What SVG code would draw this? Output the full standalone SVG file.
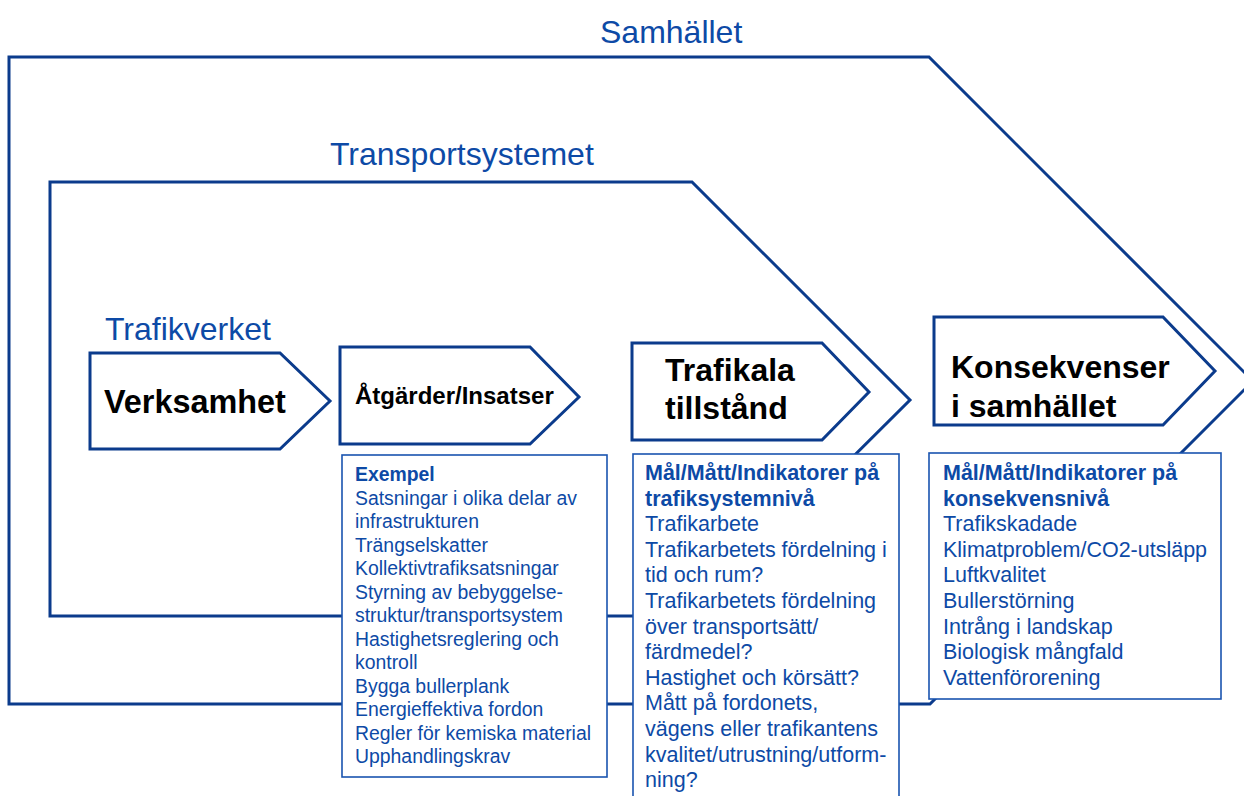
<svg xmlns="http://www.w3.org/2000/svg" width="1244" height="796" viewBox="0 0 1244 796">
  <style>
    .frame { fill: none; stroke: #0b3b8c; stroke-width: 3; stroke-linejoin: miter; }
    .step { fill: #ffffff; stroke: #0b3b8c; stroke-width: 3; stroke-linejoin: miter; }
    .box { fill: #ffffff; stroke: #1a54b0; stroke-width: 1.6; }
    .scope { font-family: "Liberation Sans", Arial, sans-serif; font-size: 32px; fill: #0d4aa6; }
    .title { font-family: "Liberation Sans", Arial, sans-serif; font-weight: bold; fill: #000000; }
    .list { font-family: "Liberation Sans", Arial, sans-serif; fill: #0d4aa6; }
    .list .h { font-weight: bold; }
  </style>

  <!-- nested scope frames -->
  <g id="frames">
    <path id="frame-samhallet" class="frame" d="M9,57 L929,57 L1253,381 L930,704 L9,704 Z"/>
    <path id="frame-transportsystemet" class="frame" d="M50,182 L692,182 L910,400 L693,616 L50,616 Z"/>
  </g>

  <!-- scope labels -->
  <g id="labels">
    <text class="scope" x="600" y="43">Samhället</text>
    <text class="scope" x="330" y="165">Transportsystemet</text>
    <text class="scope" x="105" y="340">Trafikverket</text>
  </g>

  <!-- process steps -->
  <g id="step-verksamhet">
    <path class="step" d="M90,353 L280,353 L330,401 L280,449 L90,449 Z"/>
    <text class="title" x="104" y="413" font-size="32.4">Verksamhet</text>
  </g>
  <g id="step-atgarder">
    <path class="step" d="M340,347 L530,347 L579,397 L530,444 L340,444 Z"/>
    <text class="title" x="355" y="404" font-size="24">Åtgärder/Insatser</text>
  </g>
  <g id="step-trafikala">
    <path class="step" d="M632,343 L822,343 L869,392 L822,440 L632,440 Z"/>
    <text class="title" x="665" y="381" font-size="32">Trafikala</text>
    <text class="title" x="665" y="419" font-size="32">tillstånd</text>
  </g>
  <g id="step-konsekvenser">
    <path class="step" d="M934,317 L1163,317 L1215,371 L1163,425 L934,425 Z"/>
    <text class="title" x="951" y="378" font-size="32">Konsekvenser</text>
    <text class="title" x="951" y="417" font-size="32">i samhället</text>
  </g>

  <!-- detail boxes -->
  <g id="box-exempel">
    <rect class="box" x="342" y="455" width="265" height="322"/>
    <text class="list" font-size="19.4">
      <tspan class="h" x="355" y="481">Exempel</tspan>
      <tspan x="355" y="504.5">Satsningar i olika delar av</tspan>
      <tspan x="355" y="528">infrastrukturen</tspan>
      <tspan x="355" y="551.5">Trängselskatter</tspan>
      <tspan x="355" y="575">Kollektivtrafiksatsningar</tspan>
      <tspan x="355" y="598.5">Styrning av bebyggelse-</tspan>
      <tspan x="355" y="622">struktur/transportsystem</tspan>
      <tspan x="355" y="645.5">Hastighetsreglering och</tspan>
      <tspan x="355" y="669">kontroll</tspan>
      <tspan x="355" y="692.5">Bygga bullerplank</tspan>
      <tspan x="355" y="716">Energieffektiva fordon</tspan>
      <tspan x="355" y="739.5">Regler för kemiska material</tspan>
      <tspan x="355" y="763">Upphandlingskrav</tspan>
    </text>
  </g>
  <g id="box-trafiksystemniva">
    <rect class="box" x="633" y="454" width="266" height="350"/>
    <text class="list" font-size="21.5">
      <tspan class="h" x="645" y="480">Mål/Mått/Indikatorer på</tspan>
      <tspan class="h" x="645" y="505.6">trafiksystemnivå</tspan>
      <tspan x="645" y="531.2">Trafikarbete</tspan>
      <tspan x="645" y="556.8">Trafikarbetets fördelning i</tspan>
      <tspan x="645" y="582.4">tid och rum?</tspan>
      <tspan x="645" y="608">Trafikarbetets fördelning</tspan>
      <tspan x="645" y="633.6">över transportsätt/</tspan>
      <tspan x="645" y="659.2">färdmedel?</tspan>
      <tspan x="645" y="684.8">Hastighet och körsätt?</tspan>
      <tspan x="645" y="710.4">Mått på fordonets,</tspan>
      <tspan x="645" y="736">vägens eller trafikantens</tspan>
      <tspan x="645" y="761.6">kvalitet/utrustning/utform-</tspan>
      <tspan x="645" y="787.2">ning?</tspan>
    </text>
  </g>
  <g id="box-konsekvensniva">
    <rect class="box" x="929" y="453" width="292" height="246"/>
    <text class="list" font-size="21.5">
      <tspan class="h" x="943" y="480">Mål/Mått/Indikatorer på</tspan>
      <tspan class="h" x="943" y="505.6">konsekvensnivå</tspan>
      <tspan x="943" y="531.2">Trafikskadade</tspan>
      <tspan x="943" y="556.8">Klimatproblem/CO2-utsläpp</tspan>
      <tspan x="943" y="582.4">Luftkvalitet</tspan>
      <tspan x="943" y="608">Bullerstörning</tspan>
      <tspan x="943" y="633.6">Intrång i landskap</tspan>
      <tspan x="943" y="659.2">Biologisk mångfald</tspan>
      <tspan x="943" y="684.8">Vattenförorening</tspan>
    </text>
  </g>
</svg>
